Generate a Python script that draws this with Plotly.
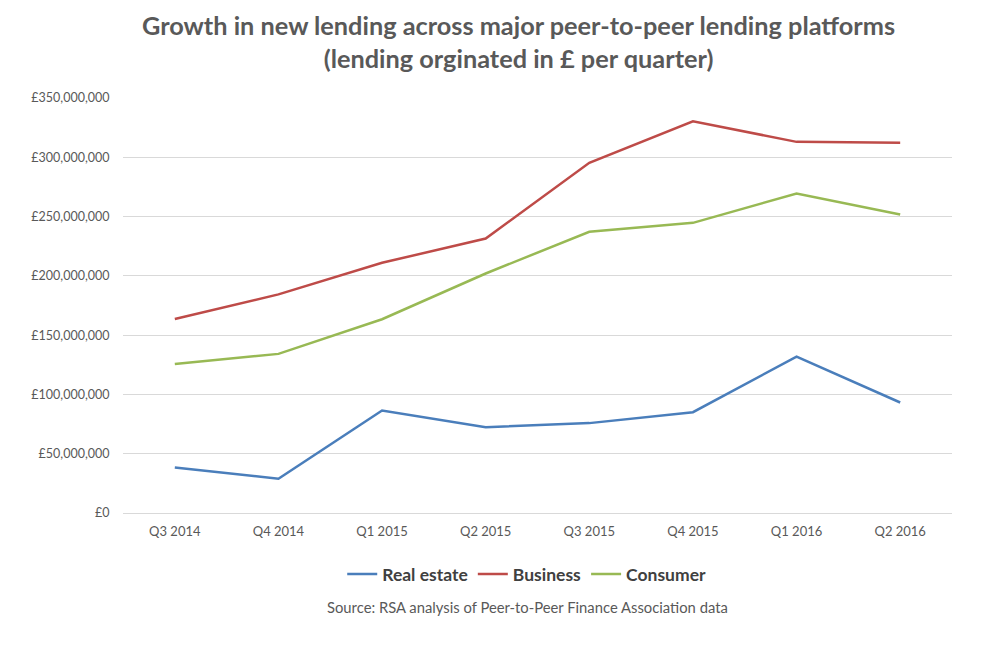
import plotly.graph_objects as go

quarters = ["Q3 2014", "Q4 2014", "Q1 2015", "Q2 2015", "Q3 2015", "Q4 2015", "Q1 2016", "Q2 2016"]
real_estate = [38.4e6, 28.9e6, 86.4e6, 72.4e6, 75.8e6, 85.0e6, 131.9e6, 93.2e6]
business = [163.6e6, 184.4e6, 211.0e6, 231.5e6, 295.3e6, 330.4e6, 313.0e6, 312.2e6]
consumer = [125.7e6, 134.2e6, 163.4e6, 202.0e6, 237.2e6, 244.7e6, 269.5e6, 251.8e6]

series = [
    ("Real estate", real_estate, "#4a7ebb"),
    ("Business", business, "#be4b48"),
    ("Consumer", consumer, "#98b954"),
]

FONT = "Lato, 'Open Sans', sans-serif"

fig = go.Figure()
for name, vals, color in series:
    fig.add_trace(go.Scatter(x=quarters, y=vals, name=name, mode="lines",
                             line=dict(color=color, width=2.5)))

fig.update_layout(
    width=1000, height=650,
    paper_bgcolor="white", plot_bgcolor="white",
    margin=dict(l=123, r=48, t=98, b=137),
    font=dict(family=FONT, color="#595959", size=12),
    legend=dict(
        orientation="h", x=0.487, xanchor="center", y=-0.147, yanchor="middle",
        font=dict(size=17.5, color="#404040", family=FONT, weight="bold"),
        itemwidth=30, traceorder="normal",
    ),
    xaxis=dict(
        type="category", range=[-0.5, 7.5], showgrid=False, zeroline=False,
        showline=False, ticks="outside", ticklen=6, tickcolor="rgba(0,0,0,0)",
        tickfont=dict(size=13, color="#595959"),
    ),
    yaxis=dict(
        range=[0, 350e6], dtick=50e6, tickprefix="£", tickformat=",d",
        showgrid=True, gridcolor="#d9d9d9", gridwidth=1, zeroline=True,
        zerolinecolor="#d9d9d9", zerolinewidth=1, showline=False,
        ticks="outside", ticklen=10, tickcolor="rgba(0,0,0,0)",
        tickfont=dict(size=12.5, color="#595959"),
    ),
    annotations=[
        dict(
            text="<b>Growth in new lending across major peer-to-peer lending platforms<br>(lending orginated in £ per quarter)</b>",
            xref="paper", yref="paper", x=0.4765, y=1.135, xanchor="center", yanchor="middle",
            showarrow=False, font=dict(size=25.3, color="#595959", family=FONT),
        ),
        dict(
            text="Source: RSA analysis of Peer-to-Peer Finance Association data",
            xref="paper", yref="paper", x=0.488, y=-0.227, xanchor="center", yanchor="middle",
            showarrow=False, font=dict(size=14.8, color="#595959"),
        ),
    ],
)

fig.write_html("out.html", config={"displayModeBar": False},
               post_script="document.body.style.margin='0';")
